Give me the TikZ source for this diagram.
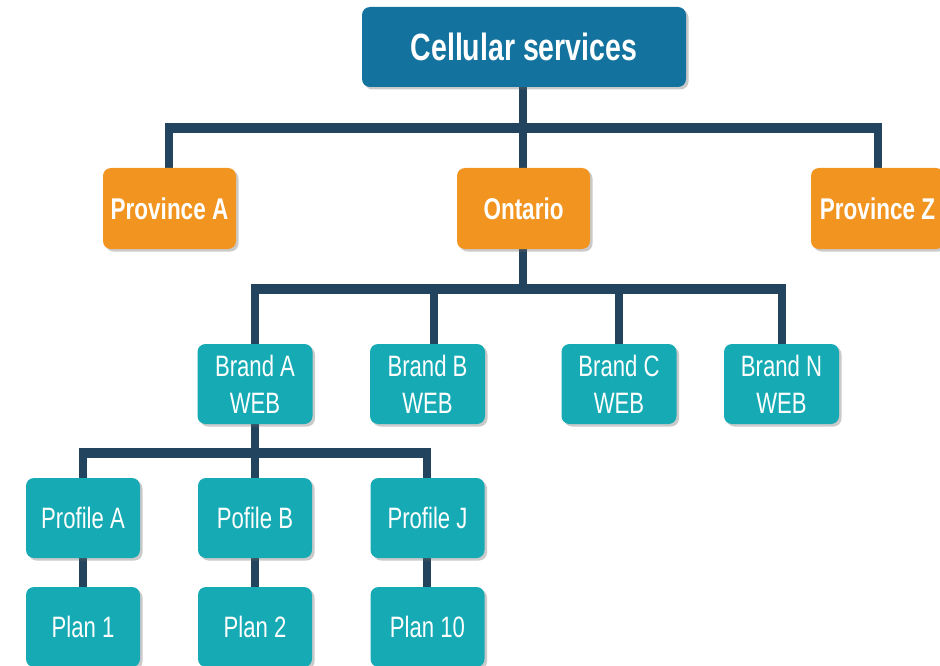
\documentclass[tikz,border=0pt]{standalone}
\usepackage{fontspec}
\newfontfamily\cond[FakeStretch=0.75]{Liberation Sans}
\usetikzlibrary{shadows}
\definecolor{rootblue}{RGB}{19,115,158}
\definecolor{provorange}{RGB}{241,148,32}
\definecolor{leafteal}{RGB}{21,170,180}
\definecolor{linknavy}{RGB}{35,68,94}
\pgfdeclarelayer{bg}
\pgfsetlayers{bg,main}
\tikzset{
  box/.style={rounded corners=8pt, text=white, align=center, inner sep=0pt,
    drop shadow={shadow xshift=2.5pt, shadow yshift=-2.5pt, opacity=0.35, fill=black!60}},
  rootbox/.style={box, fill=rootblue, minimum width=324pt, minimum height=80pt,
    font=\cond\bfseries\fontsize{38}{44}\selectfont},
  provbox/.style={box, fill=provorange, minimum width=133pt, minimum height=81pt,
    font=\cond\bfseries\fontsize{30}{36}\selectfont},
  brandbox/.style={box, fill=leafteal, minimum width=115pt, minimum height=80pt,
    font=\cond\fontsize{29.5}{37}\selectfont},
  leafbox/.style={box, fill=leafteal, minimum width=114pt, minimum height=80pt,
    font=\cond\fontsize{29.5}{36}\selectfont},
  vbar/.style={draw=linknavy, line width=8pt},
  hbar/.style={draw=linknavy, line width=10pt}
}
\begin{document}
\begin{tikzpicture}[x=1pt, y=-1pt]
\useasboundingbox (0,0) rectangle (940,666);
\clip (0,0) rectangle (940,666);

% boxes
\node[rootbox] (root) at (524,47) {Cellular services};
\node[provbox] (pa) at (169.5,208.5) {Province A};
\node[provbox] (on) at (523.5,208.5) {Ontario};
\node[provbox] (pz) at (877.5,208.5) {Province Z};

\node[brandbox] (ba) at (255,384) {Brand A\\WEB};
\node[brandbox] (bb) at (427.5,384) {Brand B\\WEB};
\node[brandbox] (bc) at (619,384) {Brand C\\WEB};
\node[brandbox] (bn) at (781.5,384) {Brand N\\WEB};

\node[leafbox] (pra) at (83,518) {Profile A};
\node[leafbox] (prb) at (255,518) {Pofile B};
\node[leafbox] (prj) at (427.5,518) {Profile J};

\node[leafbox] (p1) at (83,627) {Plan 1};
\node[leafbox] (p2) at (255,627) {Plan 2};
\node[leafbox] (p10) at (427.5,627) {Plan 10};

% junctions of the bus lines
\coordinate (t0) at (523,128);
\coordinate (tl) at (169,128);
\coordinate (tr) at (878,128);
\coordinate (m0) at (523,289);
\coordinate (ml) at (255,289);
\coordinate (mb) at (434,289);
\coordinate (mr) at (782,289);
\coordinate (b0) at (255,453);
\coordinate (bl) at (83,453);
\coordinate (br) at (427,453);

% connectors, kept behind the boxes
\begin{pgfonlayer}{bg}
  \draw[vbar] (root.south -| t0) -- (t0);
  \draw[hbar] ([xshift=-4pt]tl) -- ([xshift=4pt]tr);
  \draw[vbar] ([yshift=5pt]tl) -- (pa.north -| tl);
  \draw[vbar] (t0) -- (on.north -| t0);
  \draw[vbar] ([yshift=5pt]tr) -- (pz.north -| tr);

  \draw[vbar] (on.south -| m0) -- (m0);
  \draw[hbar] ([xshift=-4pt]ml) -- ([xshift=4pt]mr);
  \draw[vbar] ([yshift=5pt]ml) -- (ba.north);
  \draw[vbar] (mb) -- (bb.north -| mb);
  \draw[vbar] (bc.north |- m0) -- (bc.north);
  \draw[vbar] ([yshift=5pt]mr) -- (bn.north -| mr);

  \draw[vbar] (ba.south) -- (b0);
  \draw[hbar] ([xshift=-4pt]bl) -- ([xshift=4pt]br);
  \draw[vbar] ([yshift=5pt]bl) -- (pra.north);
  \draw[vbar] (b0) -- (prb.north);
  \draw[vbar] ([yshift=5pt]br) -- (prj.north -| br);

  \draw[vbar] (pra.south) -- (p1.north);
  \draw[vbar] (prb.south) -- (p2.north);
  \draw[vbar] (prj.south -| br) -- (p10.north -| br);
\end{pgfonlayer}
\end{tikzpicture}
\end{document}
